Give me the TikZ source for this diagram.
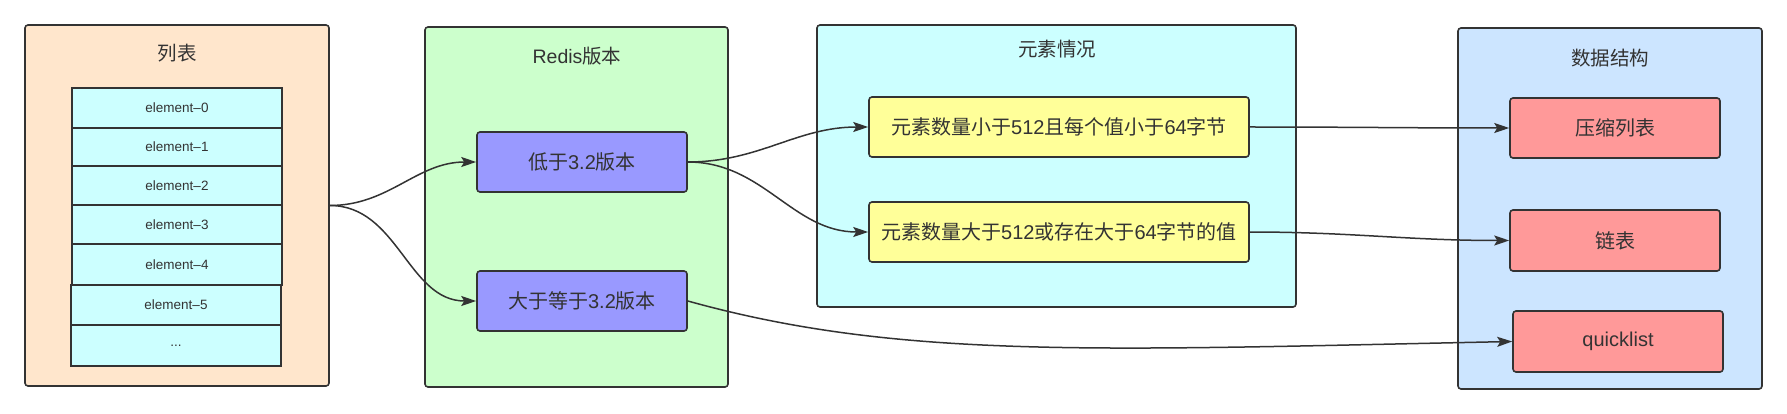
\documentclass[tikz,border=0pt]{standalone}
\usepackage{fontspec}
\setmainfont{Liberation Sans}
\newfontfamily\zh{Noto Sans CJK SC}
\usetikzlibrary{arrows.meta}
\definecolor{ink}{HTML}{333333}
\definecolor{peach}{HTML}{FFE6CC}
\definecolor{mint}{HTML}{CCFFCC}
\definecolor{aqua}{HTML}{CCFFFF}
\definecolor{sky}{HTML}{CCE5FF}
\definecolor{lilac}{HTML}{9999FF}
\definecolor{lemon}{HTML}{FFFF99}
\definecolor{rose}{HTML}{FF9999}
\tikzset{
  panel/.style={draw=ink, line width=1.6pt, rounded corners=3pt, inner sep=0pt},
  ptitle/.style={text=ink, font=\fontsize{19.5}{22}\selectfont, inner sep=0pt},
  cell/.style={draw=ink, line width=1.6pt, fill=aqua, inner sep=0pt, text=ink,
    font=\fontsize{13.5}{15}\selectfont},
  boxnode/.style={draw=ink, line width=1.6pt, rounded corners=3pt, inner sep=0pt, text=ink,
    font=\fontsize{20}{24}\selectfont},
  conn/.style={draw=ink, line width=1.5pt, -{Stealth[length=15pt,width=10pt,inset=3pt]}},
  plainline/.style={draw=ink, line width=1.5pt}
}
\begin{document}
\begin{tikzpicture}[x=1pt,y=-1pt]
\useasboundingbox (0,0) rectangle (1787,414);
% panels
\node[panel, fill=peach, minimum width=304pt, minimum height=361pt] (p1) at (177,205.5) {};
\node[panel, fill=mint, minimum width=303pt, minimum height=360pt] (p2) at (576.5,207) {};
\node[panel, fill=aqua, minimum width=479pt, minimum height=282pt] (p3) at (1056.5,166) {};
\node[panel, fill=sky, minimum width=304pt, minimum height=361pt] (p4) at (1610,208.5) {};
% titles
\node[ptitle] (t1) at (177,53) {\zh 列表};
\node[ptitle] (t2) at (577,56) {Redis{\zh 版本}};
\node[ptitle] (t3) at (1057,49) {\zh 元素情况};
\node[ptitle] (t4) at (1610,58) {\zh 数据结构};
% list cells
\node[cell, minimum width=210pt, minimum height=40pt] (e0) at (177,108) {element–0};
\node[cell, minimum width=210pt, minimum height=38pt] (e1) at (177,147) {element–1};
\node[cell, minimum width=210pt, minimum height=39pt] (e2) at (177,185.5) {element–2};
\node[cell, minimum width=210pt, minimum height=39pt] (e3) at (177,224.5) {element–3};
\node[cell, minimum width=210pt, minimum height=41pt] (e4) at (177,264.5) {element–4};
\node[cell, minimum width=210pt, minimum height=40pt] (e5) at (176,305) {element–5};
\node[cell, minimum width=210pt, minimum height=41pt] (e6) at (176,345.5) {...};
% version boxes
\node[boxnode, fill=lilac, minimum width=210pt, minimum height=60pt] (low) at (582,162) {{\zh 低于}3.2{\zh 版本}};
\node[boxnode, fill=lilac, minimum width=210pt, minimum height=60pt] (high) at (582,301) {{\zh 大于等于}3.2{\zh 版本}};
% condition boxes
\node[boxnode, fill=lemon, minimum width=380pt, minimum height=60pt] (y1) at (1059,127) {{\zh 元素数量小于}512{\zh 且每个值小于}64{\zh 字节}};
\node[boxnode, fill=lemon, minimum width=380pt, minimum height=60pt] (y2) at (1059,232) {{\zh 元素数量大于}512{\zh 或存在大于}64{\zh 字节的值}};
% structure boxes
\node[boxnode, fill=rose, minimum width=210pt, minimum height=60pt] (r1) at (1615,128) {\zh 压缩列表};
\node[boxnode, fill=rose, minimum width=210pt, minimum height=61pt] (r2) at (1615,240.5) {\zh 链表};
\node[boxnode, fill=rose, minimum width=210pt, minimum height=61pt] (r3) at (1618,341.5) {quicklist};
% connectors
\draw[conn] (p1.east) to[out=0,in=180] (low.west);
\draw[conn] (p1.east) to[out=0,in=180] (high.west);
\draw[conn] (low.east) to[out=0,in=180] (y1.west);
\draw[conn] (low.east) to[out=0,in=180] (y2.west);
\draw[conn] (y1.east) to[out=0,in=180] (r1.west);
\draw[conn] (y2.east) to[out=0,in=180] (r2.west);
\draw[conn] (high.east) .. controls (900,360) and (1100,350) .. (r3.west);
\end{tikzpicture}
\end{document}
